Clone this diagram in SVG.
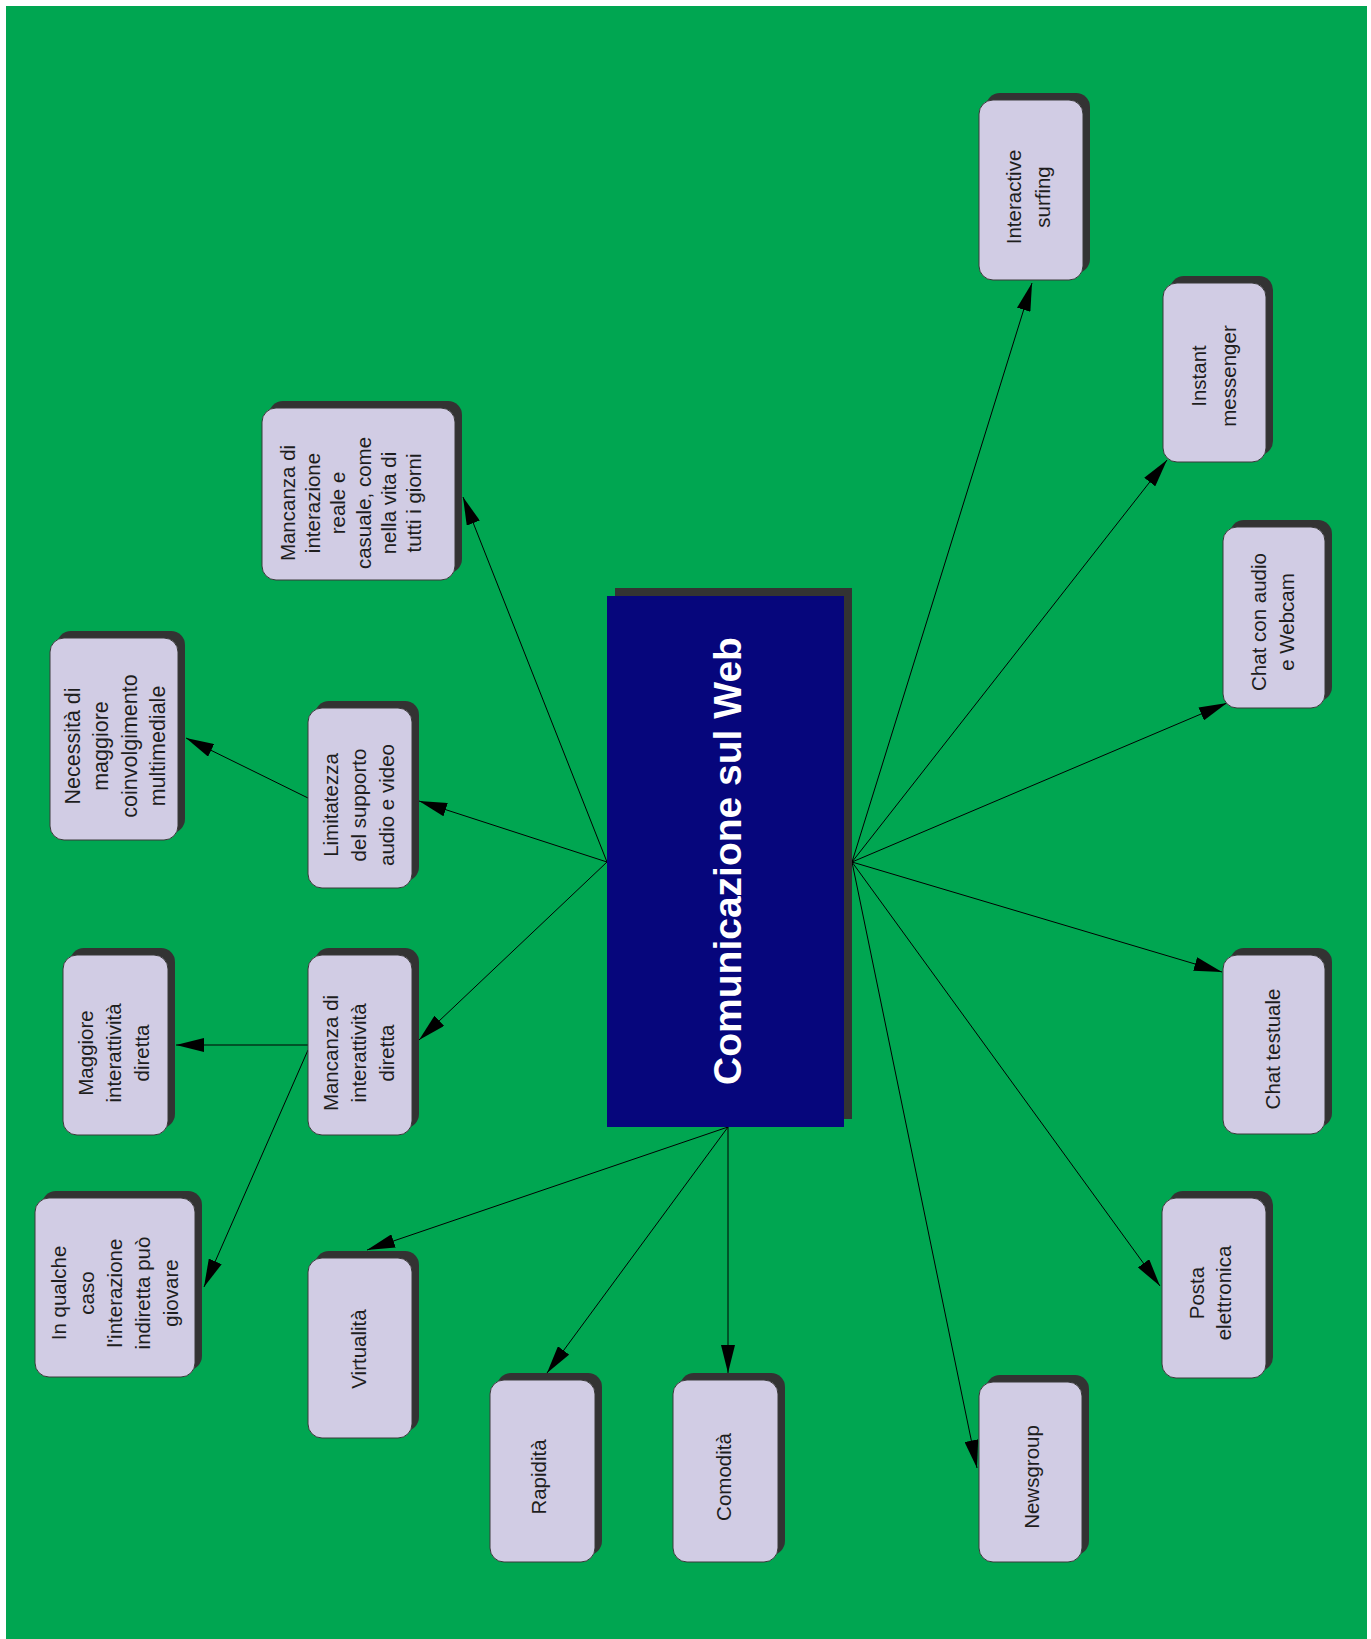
<svg xmlns="http://www.w3.org/2000/svg" width="1371" height="1639" viewBox="0 0 1371 1639">
<defs>
<style>
.sh{fill:#333333;}
.bx{fill:#d1cce4;stroke:#3a3a3a;stroke-width:1;}
.t{font-family:"Liberation Sans",Arial,sans-serif;font-size:20.5px;fill:#1e1e1e;text-anchor:middle;}
.tc{font-family:"Liberation Sans",Arial,sans-serif;font-size:39px;font-weight:bold;fill:#ffffff;text-anchor:middle;}
.c{stroke:#000;stroke-width:1;fill:none;marker-end:url(#ah);}
</style>
<marker id="ah" markerUnits="userSpaceOnUse" markerWidth="28" markerHeight="14" refX="28" refY="7" orient="auto">
<path d="M0,0 L28,7 L0,14 Z" fill="#000"/>
</marker>
</defs>
<rect x="0" y="0" width="1371" height="1639" fill="#ffffff"/>
<rect x="6" y="6" width="1361" height="1633" fill="#00a651"/>

<g id="connectors">
<line class="c" x1="607" y1="862" x2="463" y2="497"/>
<line class="c" x1="607" y1="862" x2="419" y2="801"/>
<line class="c" x1="607" y1="862" x2="419" y2="1040"/>
<line class="c" x1="308" y1="798" x2="186" y2="738"/>
<line class="c" x1="308" y1="1045" x2="176" y2="1045"/>
<line class="c" x1="308" y1="1050" x2="204" y2="1287"/>
<line class="c" x1="728" y1="1127" x2="367" y2="1250"/>
<line class="c" x1="728" y1="1127" x2="547" y2="1373"/>
<line class="c" x1="728" y1="1127" x2="728" y2="1373"/>
<line class="c" x1="852" y1="862" x2="1032" y2="283"/>
<line class="c" x1="852" y1="862" x2="1167" y2="460"/>
<line class="c" x1="852" y1="862" x2="1227" y2="703"/>
<line class="c" x1="852" y1="862" x2="1222" y2="972"/>
<line class="c" x1="852" y1="862" x2="1160" y2="1286"/>
<line class="c" x1="852" y1="862" x2="977" y2="1468"/>
</g>

<g id="center">
<rect x="615" y="588" width="237" height="531" fill="#333333"/>
<rect x="607" y="596" width="237" height="531" fill="#06067c"/>
<text class="tc" transform="translate(741,861) rotate(-90)" x="0" y="0">Comunicazione sul Web</text>
</g>

<g id="n-interactive">
<rect class="sh" x="986" y="93" width="104" height="180" rx="14"/>
<rect class="bx" x="979" y="100" width="104" height="180" rx="14"/>
<text class="t" transform="translate(1021,197) rotate(-90)"><tspan x="0" y="0">Interactive</tspan><tspan x="0" dy="29">surfing</tspan></text>
</g>

<g id="n-instant">
<rect class="sh" x="1170" y="276" width="103" height="179" rx="14"/>
<rect class="bx" x="1163" y="283" width="103" height="179" rx="14"/>
<text class="t" transform="translate(1206,376) rotate(-90)"><tspan x="0" y="0">Instant</tspan><tspan x="0" dy="30">messenger</tspan></text>
</g>

<g id="n-chataudio">
<rect class="sh" x="1230" y="520" width="102" height="181" rx="14"/>
<rect class="bx" x="1223" y="527" width="102" height="181" rx="14"/>
<text class="t" transform="translate(1266,622) rotate(-90)"><tspan x="0" y="0">Chat con audio</tspan><tspan x="0" dy="28">e Webcam</tspan></text>
</g>

<g id="n-chattext">
<rect class="sh" x="1230" y="948" width="102" height="179" rx="14"/>
<rect class="bx" x="1223" y="955" width="102" height="179" rx="14"/>
<text class="t" transform="translate(1280,1049) rotate(-90)"><tspan x="0" y="0">Chat testuale</tspan></text>
</g>

<g id="n-posta">
<rect class="sh" x="1169" y="1191" width="104" height="180" rx="14"/>
<rect class="bx" x="1162" y="1198" width="104" height="180" rx="14"/>
<text class="t" transform="translate(1204,1293) rotate(-90)"><tspan x="0" y="0">Posta</tspan><tspan x="0" dy="27">elettronica</tspan></text>
</g>

<g id="n-newsgroup">
<rect class="sh" x="986" y="1375" width="103" height="180" rx="14"/>
<rect class="bx" x="979" y="1382" width="103" height="180" rx="14"/>
<text class="t" transform="translate(1039,1477) rotate(-90)"><tspan x="0" y="0">Newsgroup</tspan></text>
</g>

<g id="n-comodita">
<rect class="sh" x="680" y="1373" width="105" height="182" rx="14"/>
<rect class="bx" x="673" y="1380" width="105" height="182" rx="14"/>
<text class="t" transform="translate(731,1477) rotate(-90)"><tspan x="0" y="0">Comodità</tspan></text>
</g>

<g id="n-rapidita">
<rect class="sh" x="497" y="1373" width="105" height="182" rx="14"/>
<rect class="bx" x="490" y="1380" width="105" height="182" rx="14"/>
<text class="t" transform="translate(546,1477) rotate(-90)"><tspan x="0" y="0">Rapidità</tspan></text>
</g>

<g id="n-virtualita">
<rect class="sh" x="315" y="1251" width="104" height="180" rx="14"/>
<rect class="bx" x="308" y="1258" width="104" height="180" rx="14"/>
<text class="t" transform="translate(366,1349) rotate(-90)"><tspan x="0" y="0">Virtualità</tspan></text>
</g>

<g id="n-inqualche">
<rect class="sh" x="42" y="1191" width="160" height="179" rx="14"/>
<rect class="bx" x="35" y="1198" width="160" height="179" rx="14"/>
<text class="t" transform="translate(66,1293) rotate(-90)"><tspan x="0" y="0">In qualche</tspan><tspan x="0" dy="28">caso</tspan><tspan x="0" dy="28">l'interazione</tspan><tspan x="0" dy="28">indiretta può</tspan><tspan x="0" dy="28">giovare</tspan></text>
</g>

<g id="n-maggiore">
<rect class="sh" x="70" y="948" width="105" height="180" rx="14"/>
<rect class="bx" x="63" y="955" width="105" height="180" rx="14"/>
<text class="t" transform="translate(93,1053) rotate(-90)"><tspan x="0" y="0">Maggiore</tspan><tspan x="0" dy="28">interattività</tspan><tspan x="0" dy="28">diretta</tspan></text>
</g>

<g id="n-mancanzainter">
<rect class="sh" x="315" y="948" width="104" height="180" rx="14"/>
<rect class="bx" x="308" y="955" width="104" height="180" rx="14"/>
<text class="t" transform="translate(338,1053) rotate(-90)"><tspan x="0" y="0">Mancanza di</tspan><tspan x="0" dy="28">interattività</tspan><tspan x="0" dy="28">diretta</tspan></text>
</g>

<g id="n-limitatezza">
<rect class="sh" x="315" y="701" width="104" height="180" rx="14"/>
<rect class="bx" x="308" y="708" width="104" height="180" rx="14"/>
<text class="t" transform="translate(338,805) rotate(-90)"><tspan x="0" y="0">Limitatezza</tspan><tspan x="0" dy="28">del supporto</tspan><tspan x="0" dy="28">audio e video</tspan></text>
</g>

<g id="n-necessita">
<rect class="sh" x="57" y="631" width="128" height="202" rx="14"/>
<rect class="bx" x="50" y="638" width="128" height="202" rx="14"/>
<text class="t" style="font-size:21.5px" transform="translate(80,746) rotate(-90)"><tspan x="0" y="0">Necessità di</tspan><tspan x="0" dy="28.3">maggiore</tspan><tspan x="0" dy="28.3">coinvolgimento</tspan><tspan x="0" dy="28.3">multimediale</tspan></text>
</g>

<g id="n-mancanzareale">
<rect class="sh" x="269" y="401" width="193" height="172" rx="14"/>
<rect class="bx" x="262" y="408" width="193" height="172" rx="14"/>
<text class="t" transform="translate(295,503) rotate(-90)"><tspan x="0" y="0">Mancanza di</tspan><tspan x="0" dy="25.2">interazione</tspan><tspan x="0" dy="25.2">reale e</tspan><tspan x="0" dy="25.2">casuale, come</tspan><tspan x="0" dy="25.2">nella vita di</tspan><tspan x="0" dy="25.2">tutti i giorni</tspan></text>
</g>
</svg>
